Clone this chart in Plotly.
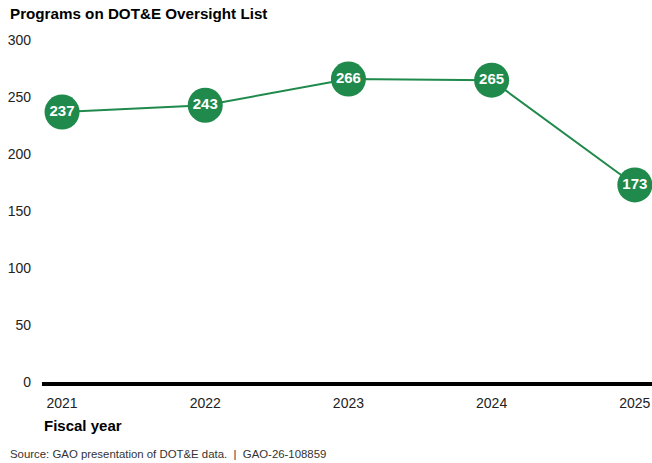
import plotly.graph_objects as go

years = [2021, 2022, 2023, 2024, 2025]
programs = [237, 243, 266, 265, 173]
y_ticks = [0, 50, 100, 150, 200, 250, 300]

green = "#1f8a4c"

fig = go.Figure()
fig.add_trace(go.Scatter(
    x=years, y=programs,
    mode="lines+markers+text",
    line=dict(color=green, width=2),
    marker=dict(size=35, color=green),
    text=[str(v) for v in programs],
    textposition="middle center",
    textfont=dict(family="Liberation Sans, Arial", size=15, color="white", weight="bold"),
    cliponaxis=False,
    hoverinfo="skip",
))

fig.update_layout(
    width=652, height=463,
    margin=dict(l=42, r=0, t=38, b=81),
    paper_bgcolor="white", plot_bgcolor="white",
    showlegend=False,
    font=dict(family="Liberation Sans, Arial", color="#222"),
    xaxis=dict(
        range=[2020.86, 2025.12],
        tickvals=years, ticktext=[str(y) for y in years],
        showgrid=False, zeroline=False,
        showline=True, linecolor="black", linewidth=4,
        ticks="", tickfont=dict(size=14, color="#222"),
        ticklabelstandoff=5,
    ),
    yaxis=dict(
        range=[0, 302],
        tickvals=y_ticks,
        showgrid=False, zeroline=False, showline=False,
        ticks="", tickfont=dict(size=14, color="#222"),
        ticklabelstandoff=10,
    ),
)

fig.add_annotation(text="<b>Programs on DOT&amp;E Oversight List</b>", xref="paper", yref="paper",
                   x=-34/610, y=1, xanchor="left", yanchor="bottom", yshift=14,
                   showarrow=False, font=dict(size=15.2, color="black"))
fig.add_annotation(text="<b>Fiscal year</b>", xref="paper", yref="paper",
                   x=0, y=0, xanchor="left", yanchor="middle", yshift=-43,
                   showarrow=False, font=dict(size=15, color="black"))
fig.add_annotation(text="Source: GAO presentation of DOT&amp;E data.  |  GAO-26-108859", xref="paper", yref="paper",
                   x=-34/610, y=0, xanchor="left", yanchor="middle", yshift=-72,
                   showarrow=False, font=dict(size=11.4, color="#333"))

fig.write_html("out.html")
